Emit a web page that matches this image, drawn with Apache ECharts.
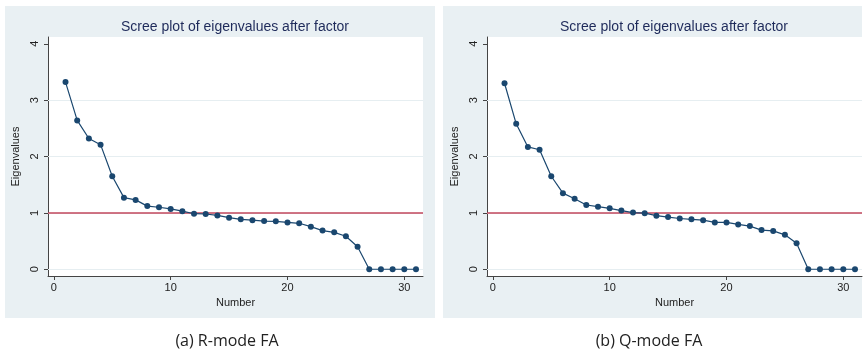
<!DOCTYPE html>
<html>
<head>
<meta charset="utf-8">
<script src="https://cdn.jsdelivr.net/npm/echarts@6/dist/echarts.min.js"></script>
<style>
  html, body { margin: 0; padding: 0; background: #fff; }
  #main { width: 868px; height: 354px; }
</style>
</head>
<body>
<div id="main"></div>
<script>
// eigenvalue number 1..31
const numbers = [1,2,3,4,5,6,7,8,9,10,11,12,13,14,15,16,17,18,19,20,21,22,23,24,25,26,27,28,29,30,31];
const rModeEigen = [3.32,2.64,2.32,2.21,1.65,1.27,1.23,1.12,1.10,1.07,1.03,0.985,0.98,0.955,0.915,0.885,0.87,0.855,0.85,0.83,0.815,0.755,0.685,0.655,0.585,0.40,0,0,0,0,0];
const qModeEigen = [3.30,2.58,2.17,2.12,1.65,1.35,1.25,1.14,1.11,1.08,1.04,1.005,0.995,0.95,0.925,0.90,0.885,0.87,0.83,0.83,0.795,0.765,0.695,0.68,0.61,0.46,0,0,0,0,0];
const xTicks = [0,10,20,30];
const yTicks = [0,1,2,3,4];
const captions = ['(a) R-mode FA', '(b) Q-mode FA'];
const plotTitle = 'Scree plot of eigenvalues after factor';

const navy = '#1a476f';
const txt = '#222';
const fontFam = 'Liberation Sans, Arial, sans-serif';

function xAxisFor(i) {
    return {
        gridIndex: i, type: 'value', min: -0.5, max: 31.6, position: 'bottom',
        name: 'Number', nameLocation: 'middle', nameGap: 20,
        nameTextStyle: {fontSize: 11, color: txt, fontFamily: fontFam},
        axisLine: {show: true, onZero: false, lineStyle: {color: '#444', width: 1}},
        axisTick: {show: true, length: 4, customValues: xTicks, lineStyle: {color: '#444'}},
        axisLabel: {customValues: xTicks, fontSize: 11, color: txt, fontFamily: fontFam, margin: 6},
        splitLine: {show: false}
    };
}
function yAxisFor(i) {
    return {
        gridIndex: i, type: 'value', min: -0.12, max: 4.12, position: 'left',
        name: 'Eigenvalues', nameLocation: 'middle', nameGap: 27,
        nameTextStyle: {fontSize: 11, color: txt, fontFamily: fontFam},
        axisLine: {show: true, onZero: false, lineStyle: {color: '#444', width: 1}},
        axisTick: {show: true, length: 4, customValues: yTicks, lineStyle: {color: '#444'}},
        axisLabel: {customValues: yTicks, rotate: 90, fontSize: 11, color: txt, fontFamily: fontFam, margin: 8},
        splitLine: {show: false}
    };
}
function seriesFor(i, vals) {
    return {
        type: 'line', xAxisIndex: i, yAxisIndex: i,
        data: numbers.map((n, k) => [n, vals[k]]),
        symbol: 'circle', symbolSize: 6,
        itemStyle: {color: navy},
        lineStyle: {color: navy, width: 1.2},
        markLine: {
            silent: true, symbol: 'none', label: {show: false}, z: 2,
            lineStyle: {color: '#c2475c', width: 1.5, type: 'solid'},
            data: [{yAxis: 1}]
        },
        z: 3
    };
}
function gridLines(i) {
    return {
        type: 'line', xAxisIndex: i, yAxisIndex: i, data: [],
        markLine: {
            silent: true, symbol: 'none', label: {show: false}, z: 1,
            lineStyle: {color: '#e6eef1', width: 1, type: 'solid'},
            data: [0, 1, 2, 3].map(v => ({yAxis: v}))
        },
        z: 1
    };
}

let myChart;
function draw() {
    let option = {
        animation: false,
        grid: [
            {left: 48, right: 445, top: 37, bottom: 78, show: true, backgroundColor: '#fff', borderWidth: 0},
            {left: 487, right: 6, top: 37, bottom: 78, show: true, backgroundColor: '#fff', borderWidth: 0}
        ],
        xAxis: [xAxisFor(0), xAxisFor(1)],
        yAxis: [yAxisFor(0), yAxisFor(1)],
        series: [gridLines(0), gridLines(1), seriesFor(0, rModeEigen), seriesFor(1, qModeEigen)],
        graphic: [
            {type: 'rect', shape: {x: 5, y: 6, width: 430, height: 312}, style: {fill: '#e9f0f3'}, z: -10, silent: true},
            {type: 'rect', shape: {x: 443, y: 6, width: 419, height: 312}, style: {fill: '#e9f0f3'}, z: -10, silent: true},
            {type: 'text', x: 235, y: 27, style: {text: plotTitle, fill: '#1e2a5a', font: '14px ' + fontFam, align: 'center', verticalAlign: 'middle'}},
            {type: 'text', x: 674, y: 27, style: {text: plotTitle, fill: '#1e2a5a', font: '14px ' + fontFam, align: 'center', verticalAlign: 'middle'}},
            {type: 'text', x: 227, y: 341, style: {text: captions[0], fill: '#222', font: '16px "Open Sans", sans-serif', align: 'center', verticalAlign: 'middle'}},
            {type: 'text', x: 649, y: 341, style: {text: captions[1], fill: '#222', font: '16px "Open Sans", sans-serif', align: 'center', verticalAlign: 'middle'}}
        ]
    };

    myChart = echarts.init(document.getElementById('main'));
    myChart.setOption(option);

    window.addEventListener('resize', function () {
        myChart.resize();
    }, false);
}

draw();
</script>
</body>
</html>
